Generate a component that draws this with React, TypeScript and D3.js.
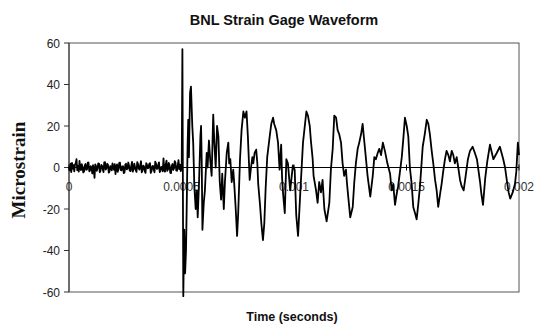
import React from 'react';
import * as d3 from 'd3';

// Axis setup
const yTicks = [-60, -40, -20, 0, 20, 40, 60];
const xTicks = [0, 0.0005, 0.001, 0.0015, 0.002];
const xTickLabels = ['0', '0.0005', '0.001', '0.0015', '0.002'];

// Pre-trigger noise, evenly sampled from 0 to 0.0005 s (microstrain)
const preTriggerNoise = [
  0.5, -1.4, 1.8, -2.2, 2.2, -0.6, 1.1, -1.9, 1.4, 2.1, 4.0, -1.3, 0.8, -2.0, 3.2, -0.5,
  -1.2, 1.6, 0.3, -2.4, -2.0, 0.9, 1.7, -1.1, -0.9, 2.3, 2.4, -1.8, -1.5, 0.6, 0.2, -2.9,
  1.1, -0.7, -5.0, 1.5, 0.7, -1.6, -0.4, 2.0, 1.9, -2.3, -1.6, 1.2, 0.9, -0.8, -2.2, 2.5,
  2.6, -1.0, -0.3, 1.8, 1.2, -2.5, -1.9, 0.7, 0.4, -1.4, 2.0, -0.2, -1.1, 1.6, -3.2, 0.3,
  1.5, -2.1, -0.7, 2.2, 2.3, -1.2, -1.4, 0.5, 0.6, -2.7, -2.4, 1.3, 1.8, -0.9, -0.5, 2.4,
  1.0, -1.5, -1.7, 0.8, 2.7, -2.0, -0.8, 1.9, 0.3, -1.3, -2.1, 2.6, 1.6, -0.6, -1.0, 1.1,
  3.0, -2.3, -1.3, 0.9, 0.5, -1.8, -2.6, 2.1, 1.3, -0.4, -0.2, 1.7, 2.1, -2.6, -1.8, 0.6,
  0.8, -1.1, -2.3, 2.8, 1.9, -0.7, -0.6, 1.4, 2.5, -2.2, -1.5, 0.2, 0.4, -1.9, 4.4, -0.9,
  -2.0, 1.5, 3.3, -1.6, -0.9, 2.2, 1.2, -2.5, -2.7, 0.7, 1.7, -1.2, -0.4, 3.1, 2.2, -1.4,
  -1.6, 0.9, 3.5, -0.8, 1.4, -1.7
];

// Post-trigger waveform: time (microseconds) and strain (microstrain)
const waveTimeUs = [
  501, 504, 508, 512, 516, 520, 523, 527, 530, 533, 538, 542, 548, 552, 557, 563, 568, 572,
  578, 584, 587, 590, 593, 599, 604, 612, 616, 622, 628, 634, 641, 646, 652, 658, 664, 670,
  676, 681, 688, 693, 701, 708, 712, 717, 723, 730, 735, 741, 747, 752, 760, 767, 775, 782,
  789, 795, 803, 809, 815, 819, 825, 832, 837, 841, 849, 855, 862, 868, 874, 881, 892, 899,
  907, 912, 921, 929, 936, 943, 947, 951, 959, 966, 973, 983, 995, 1003, 1010, 1018, 1028,
  1040, 1055, 1062, 1070, 1075, 1083, 1087, 1098, 1105, 1112, 1120, 1127, 1135, 1145, 1157,
  1164, 1172, 1179, 1187, 1194, 1201, 1209, 1216, 1223, 1231, 1235, 1241, 1250, 1261, 1268,
  1275, 1283, 1290, 1298, 1305, 1312, 1320, 1327, 1339, 1350, 1357, 1364, 1372, 1379, 1387,
  1395, 1404, 1415, 1427, 1434, 1441, 1449, 1456, 1463, 1479, 1486, 1493, 1501, 1508, 1515,
  1523, 1530, 1538, 1545, 1552, 1560, 1572, 1581, 1590, 1597, 1604, 1612, 1619, 1627, 1634,
  1641, 1649, 1656, 1663, 1671, 1678, 1686, 1693, 1701, 1708, 1715, 1723, 1730, 1738, 1745,
  1754, 1763, 1773, 1782, 1794, 1804, 1813, 1827, 1833, 1840, 1850, 1859, 1871, 1886, 1901,
  1915, 1930, 1938, 1947, 1954, 1961, 1972, 1982, 1988, 1995, 2000
];
const waveStrain = [
  1, 57, -62, -30, -51, -40, -20, 10, 23, 5, 36, 39, 20, 12, -9, -20, -11, -24,
  -7, 15, 20, 2, -30, -17, -11, 7, 0, 13, 3, -4, 25.5, 12, 0, 20, 15, -7,
  -15.5, -3, -20, -7, 7, 12, 2, 4, -7, -1, -9, -20, -33, -22, 4, 18, 27, 24,
  27, 15, -6, 0, 5, 2, 7, 8.6, 2, -8, -18, -27, -35, -27, -10, 5, 15, 21,
  24, 21, 18, 12, -1, 11, -5, -12, -22, 4, 2, -11, 1, -1, -23, -33, -12,
  12, 27, 25, 20, 13, 4, -4, -11, -17, -7, -12, -6, -20, -26, -17,
  -1, 9, 25, 24, 18, 16, 12, 2, -4, -1, -7, -14, -24, -19, -7,
  2, 9, 12, 16, 21, 13, 4, -4, -14, -4, 5, 4, 7, 9, 6,
  12, 8, 2, -3, -11, -8, -18, -13, -9, 5, 14, 24, 20, 15, 0,
  -8, -19, -22, -25, -18, -9, 10, 16, 23, 21, 16, 8, 2, -6, -11,
  -19, -13, -8, -2, 4, 8, 6, 3, 8, 6, 2, 5, 0, -6, -9,
  -11, -4, 4, 8, 10, 7, 4, -7, -13, -18, -5, 3, 11, 4, 7,
  10, 4, 0, -7, -12, -15, -12, -8, -2, 12, 6
];

const W = 536;
const H = 329;
const left = 69;
const right = 519;
const top = 43;
const bottom = 292;

export default function App() {
  const x = d3.scaleLinear().domain([0, 0.002]).range([left, right]);
  const y = d3.scaleLinear().domain([-60, 60]).range([bottom, top]);

  const preDt = 0.0005 / preTriggerNoise.length;
  const points: [number, number][] = [
    ...preTriggerNoise.map((v, i) => [i * preDt, v] as [number, number]),
    ...waveTimeUs.map((t, i) => [t * 1e-6, waveStrain[i]] as [number, number])
  ];

  const line = d3.line<[number, number]>()
    .x(d => x(d[0]))
    .y(d => y(d[1]));

  const y0 = y(0);

  return (
    <div style={{ position: 'absolute', left: 0, top: 0 }}>
      <svg width={W} height={H} style={{ display: 'block', background: '#fff' }}>
        {/* Title */}
        <text x={284} y={25} textAnchor="middle" fontFamily="'Liberation Sans', Arial, sans-serif"
          fontWeight="bold" fontSize={14.5} fill="#111">BNL Strain Gage Waveform</text>

        {/* Plot area border */}
        <rect x={left} y={top} width={right - left} height={bottom - top}
          fill="none" stroke="#555" strokeWidth={1} />

        {/* Y axis */}
        <line x1={left} x2={left} y1={top} y2={bottom} stroke="#333" />
        {yTicks.map(t => (
          <g key={t}>
            <line x1={left - 5} x2={left} y1={y(t)} y2={y(t)} stroke="#333" />
            <text x={60} y={y(t) + 4.5} textAnchor="end" fontFamily="'Liberation Sans', Arial, sans-serif"
              fontSize={12} fill="#222">{t}</text>
          </g>
        ))}

        {/* X tick labels (drawn under the trace) */}
        {xTicks.map((t, i) => (
          <text key={t} x={x(t)} y={191} textAnchor="middle" fontFamily="'Liberation Sans', Arial, sans-serif"
            fontSize={12} fill="#333">{xTickLabels[i]}</text>
        ))}

        {/* Waveform */}
        <path d={line(points) ?? ''} fill="none" stroke="#000" strokeWidth={1.8} strokeLinejoin="round" />

        {/* X axis on zero line */}
        <line x1={left} x2={right} y1={y0} y2={y0} stroke="#000" />
        {xTicks.map(t => (
          <line key={t} x1={x(t)} x2={x(t)} y1={y0 - 3} y2={y0 + 3} stroke="#000" />
        ))}

        {/* Axis titles */}
        <text transform={`translate(25,170) rotate(-90)`} textAnchor="middle"
          fontFamily="'Liberation Serif', 'Times New Roman', serif" fontWeight="bold" fontSize={19} fill="#111">Microstrain</text>
        <text x={292} y={321} textAnchor="middle" fontFamily="'Liberation Sans', Arial, sans-serif"
          fontWeight="bold" fontSize={12.5} fill="#111">Time (seconds)</text>
      </svg>
    </div>
  );
}
